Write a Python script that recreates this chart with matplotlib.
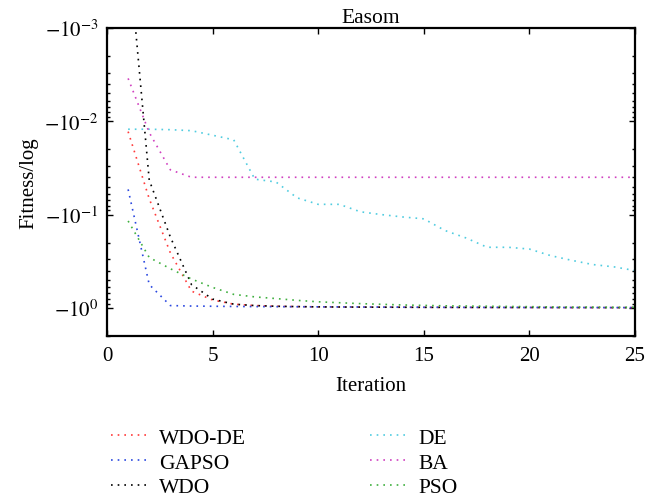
import numpy as np
import matplotlib
matplotlib.use("Agg")
import matplotlib.pyplot as plt
from matplotlib.ticker import FuncFormatter, LogLocator, NullFormatter

# Данные сходимости (функция Easom), значения пригодности по итерациям
iterations = np.arange(1, 26)

wdo_de = [-0.0129, -0.0676, -0.257, -0.661, -0.822, -0.912, -0.944, -0.96, -0.968, -0.975,
          -0.978, -0.98, -0.982, -0.984, -0.986, -0.987, -0.988, -0.989, -0.99, -0.99,
          -0.991, -0.992, -0.992, -0.993, -0.993]
gapso = [-0.0537, -0.562, -0.944, -0.955, -0.96, -0.965, -0.968, -0.97, -0.972, -0.974,
         -0.976, -0.978, -0.98, -0.982, -0.984, -0.985, -0.986, -0.987, -0.988, -0.989,
         -0.99, -0.99, -0.991, -0.992, -0.992]
wdo = [-0.000135, -0.0427, -0.174, -0.562, -0.804, -0.912, -0.944, -0.96, -0.968, -0.975,
       -0.978, -0.98, -0.982, -0.984, -0.986, -0.987, -0.988, -0.989, -0.99, -0.99,
       -0.991, -0.992, -0.992, -0.993, -0.993]
de = [-0.01216, -0.01216, -0.0123, -0.0126, -0.0141, -0.0158, -0.0417, -0.0447, -0.0661, -0.0776,
      -0.0776, -0.0933, -0.1, -0.106, -0.111, -0.148, -0.178, -0.224, -0.224, -0.234,
      -0.275, -0.309, -0.343, -0.363, -0.398]
ba = [-0.00347, -0.0132, -0.0331, -0.0398, -0.0398, -0.0398, -0.0398, -0.0398, -0.0398, -0.0398,
      -0.0398, -0.0398, -0.0398, -0.0398, -0.0398, -0.0398, -0.0398, -0.0398, -0.0398, -0.0398,
      -0.0398, -0.0398, -0.0398, -0.0398, -0.0398]
pso = [-0.117, -0.288, -0.380, -0.490, -0.603, -0.716, -0.762, -0.794, -0.83, -0.86,
       -0.88, -0.90, -0.915, -0.93, -0.94, -0.95, -0.955, -0.96, -0.965, -0.97,
       -0.975, -0.98, -0.98, -0.985, -0.985]

labels = ['WDO-DE', 'GAPSO', 'WDO', 'DE', 'BA', 'PSO']
colors = ['#ff3a3a', '#2a48e0', '#000000', '#50cce0', '#d040c0', '#40b040']
series = [wdo_de, gapso, wdo, de, ba, pso]

plt.rcParams['font.family'] = 'serif'
plt.rcParams['font.serif'] = ['Liberation Serif', 'DejaVu Serif']
plt.rcParams['mathtext.fontset'] = 'stix'
plt.rcParams['font.size'] = 15

fig = plt.figure(figsize=(6.67, 5.02), dpi=100)
ax = fig.add_axes([107 / 667, 1 - 337 / 502, 528 / 667, 308 / 502])

lines = []
for y, c, lab in zip(series, colors, labels):
    # ось логарифмическая по модулю, значения отрицательные
    ln, = ax.plot(iterations, -np.array(y), color=c, lw=1.2,
                  linestyle=(0, (1, 3)), label=lab)
    lines.append(ln)

ax.set_yscale('log')
ax.set_ylim(2.0, 1e-3)
ax.set_xlim(0, 25)
ax.set_xticks([0, 5, 10, 15, 20, 25])
ax.yaxis.set_major_locator(LogLocator(base=10, numticks=10))
ax.yaxis.set_minor_locator(LogLocator(base=10, subs=np.arange(2, 10), numticks=10))
ax.yaxis.set_major_formatter(FuncFormatter(lambda v, p: r'$-10^{%d}$' % round(np.log10(v))))
ax.yaxis.set_minor_formatter(NullFormatter())

ax.tick_params(which='both', direction='in', top=True, right=True, width=1)
ax.tick_params(which='major', length=4)
ax.tick_params(axis='y', which='major', pad=6)
ax.tick_params(axis='x', which='major', pad=7)
ax.tick_params(which='minor', length=2.5)
for s in ax.spines.values():
    s.set_linewidth(1.6)

ax.set_title('Easom', fontsize=15.5, pad=4)
ax.set_xlabel('Iteration', labelpad=8)
ax.set_ylabel('Fitness/log', labelpad=4)

fig.legend(handles=lines, loc='upper left', bbox_to_anchor=(100 / 667, 1 - 418 / 502),
           ncol=2, frameon=False, borderpad=0, handlelength=1.65, handletextpad=0.6,
           columnspacing=5.75, labelspacing=0.22, fontsize=15.5)

fig.savefig('out.png', dpi=100)
